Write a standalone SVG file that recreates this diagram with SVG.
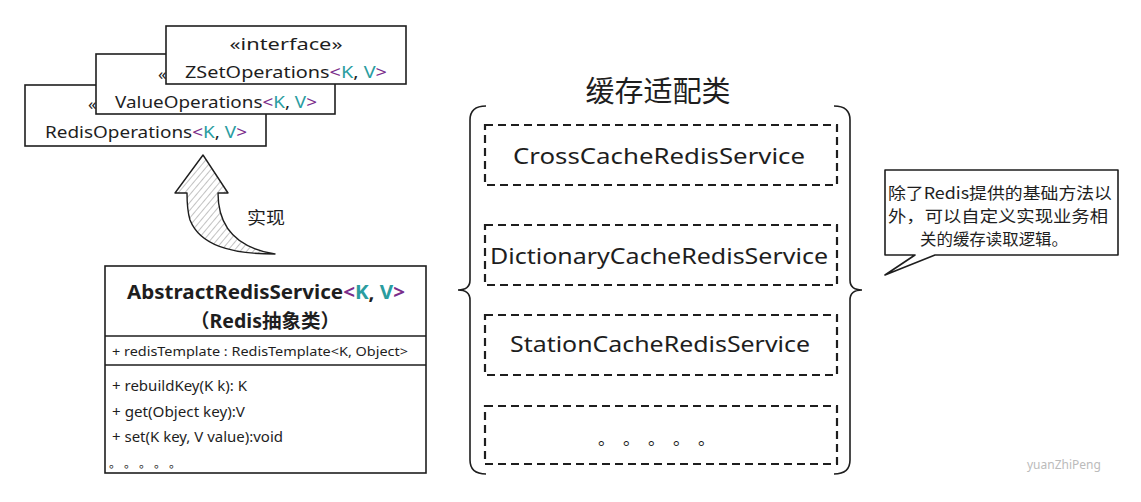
<svg xmlns="http://www.w3.org/2000/svg" width="1141" height="502" viewBox="0 0 1141 502">
<style>
text{font-family:"Noto Sans","Noto Sans CJK SC",sans-serif;fill:#1e1e1e}
.box{fill:#fff;stroke:#1e1e1e;stroke-width:1.6}
.dash{fill:none;stroke:#1e1e1e;stroke-width:2.2;stroke-dasharray:8 5}
.p{fill:#7b2d8b}
.t{fill:#2a9d9f}
.c{text-anchor:middle}
.cjk{font-family:"Noto Sans CJK SC",sans-serif}
</style>
<defs>
<pattern id="hatch" width="5" height="5" patternUnits="userSpaceOnUse" patternTransform="rotate(40)">
<rect width="5" height="5" fill="#fff"/>
<line x1="0" y1="0" x2="0" y2="5" stroke="#999" stroke-width="1.2"/>
</pattern>
</defs>

<g id="redisOperations">
<rect class="box" x="25" y="85" width="241" height="61"/>
<text x="88" y="110" font-size="17">«</text>
<text class="c" x="146" y="138" font-size="17" textLength="202" lengthAdjust="spacingAndGlyphs">RedisOperations<tspan class="p">&lt;</tspan><tspan class="t">K</tspan>, <tspan class="t">V</tspan><tspan class="p">&gt;</tspan></text>
</g>
<g id="valueOperations">
<rect class="box" x="96" y="54" width="239" height="60"/>
<text x="158" y="80" font-size="17">«</text>
<text class="c" x="216" y="108" font-size="17" textLength="202" lengthAdjust="spacingAndGlyphs">ValueOperations<tspan class="p">&lt;</tspan><tspan class="t">K</tspan>, <tspan class="t">V</tspan><tspan class="p">&gt;</tspan></text>
</g>
<g id="zsetOperations">
<rect class="box" x="166" y="26" width="240" height="58"/>
<text class="c" x="286" y="50" font-size="17" textLength="113" lengthAdjust="spacingAndGlyphs">«interface»</text>
<text class="c" x="286" y="78" font-size="17" textLength="202" lengthAdjust="spacingAndGlyphs">ZSetOperations<tspan class="p">&lt;</tspan><tspan class="t">K</tspan>, <tspan class="t">V</tspan><tspan class="p">&gt;</tspan></text>
</g>

<g id="connectors">
<path d="M203 155 L228 193 L218 193 C218 228 238 248 275 254 C230 254 200 245 190 220 C187 210 187 200 187 193 L175 193 Z" fill="url(#hatch)" stroke="#1e1e1e" stroke-width="1.4" stroke-linejoin="round"/>
<text class="cjk" x="247" y="224" font-size="17" textLength="38" lengthAdjust="spacingAndGlyphs">实现</text>
</g>

<g id="abstractRedisService">
<rect class="box" x="105" y="266" width="321" height="207"/>
<line x1="105" y1="336" x2="426" y2="336" stroke="#1e1e1e" stroke-width="1.4"/>
<line x1="105" y1="365" x2="426" y2="365" stroke="#1e1e1e" stroke-width="1.4"/>
<text class="c" x="266" y="299" font-size="19" font-weight="bold" textLength="278" lengthAdjust="spacingAndGlyphs">AbstractRedisService<tspan class="p">&lt;</tspan><tspan class="t">K</tspan>, <tspan class="t">V</tspan><tspan class="p">&gt;</tspan></text>
<text class="c" x="265" y="328" font-size="19" font-weight="bold" textLength="150" lengthAdjust="spacingAndGlyphs">（Redis抽象类）</text>
<text x="112" y="356" font-size="13" textLength="296" lengthAdjust="spacingAndGlyphs">+ redisTemplate : RedisTemplate&lt;K, Object&gt;</text>
<text x="112" y="391" font-size="14" textLength="135" lengthAdjust="spacingAndGlyphs">+ rebuildKey(K k): K</text>
<text x="112" y="417" font-size="14" textLength="133" lengthAdjust="spacingAndGlyphs">+ get(Object key):V</text>
<text x="112" y="442" font-size="14" textLength="171" lengthAdjust="spacingAndGlyphs">+ set(K key, V value):void</text>
<text class="cjk" x="109" y="468" font-size="12" letter-spacing="9">。。。。。</text>
</g>

<g id="cacheAdapters">
<text class="c cjk" x="658" y="102" font-size="29" textLength="145" lengthAdjust="spacingAndGlyphs">缓存适配类</text>
<path d="M486 106 Q470 106 470 120 L470 280 Q470 290 458 290 Q470 290 470 300 L470 460 Q470 474 486 474" fill="none" stroke="#1e1e1e" stroke-width="1.6"/>
<path d="M834 106 Q850 106 850 120 L850 280 Q850 290 862 290 Q850 290 850 300 L850 460 Q850 474 834 474" fill="none" stroke="#1e1e1e" stroke-width="1.6"/>
</g>
<g id="crossCache">
<rect class="dash" x="485" y="125" width="352" height="60"/>
<text class="c" x="659" y="164" font-size="21" textLength="292" lengthAdjust="spacingAndGlyphs">CrossCacheRedisService</text>
</g>
<g id="dictionaryCache">
<rect class="dash" x="485" y="225" width="352" height="60"/>
<text class="c" x="659" y="264" font-size="21" textLength="338" lengthAdjust="spacingAndGlyphs">DictionaryCacheRedisService</text>
</g>
<g id="stationCache">
<rect class="dash" x="485" y="315" width="352" height="60"/>
<text class="c" x="660" y="352" font-size="21" textLength="300" lengthAdjust="spacingAndGlyphs">StationCacheRedisService</text>
</g>
<g id="moreCache">
<rect class="dash" x="485" y="406" width="352" height="58"/>
<text class="cjk" x="598" y="445" font-size="17" letter-spacing="16.5">。。。。。</text>
</g>

<g id="note">
<path d="M885 170 L1118 170 L1118 255 L935 255 L885 275 L915 255 L885 255 Z" fill="#fff" stroke="#1e1e1e" stroke-width="1.6" stroke-linejoin="round"/>
<text class="cjk" x="888" y="199" font-size="16" textLength="224" lengthAdjust="spacingAndGlyphs">除了Redis提供的基础方法以</text>
<text class="cjk" x="888" y="222" font-size="16" textLength="220" lengthAdjust="spacingAndGlyphs">外，可以自定义实现业务相</text>
<text class="cjk" x="920" y="245" font-size="16" textLength="148" lengthAdjust="spacingAndGlyphs">关的缓存读取逻辑。</text>
</g>

<text x="1027" y="469" font-size="12" style="fill:#bbbbbb">yuanZhiPeng</text>
</svg>
